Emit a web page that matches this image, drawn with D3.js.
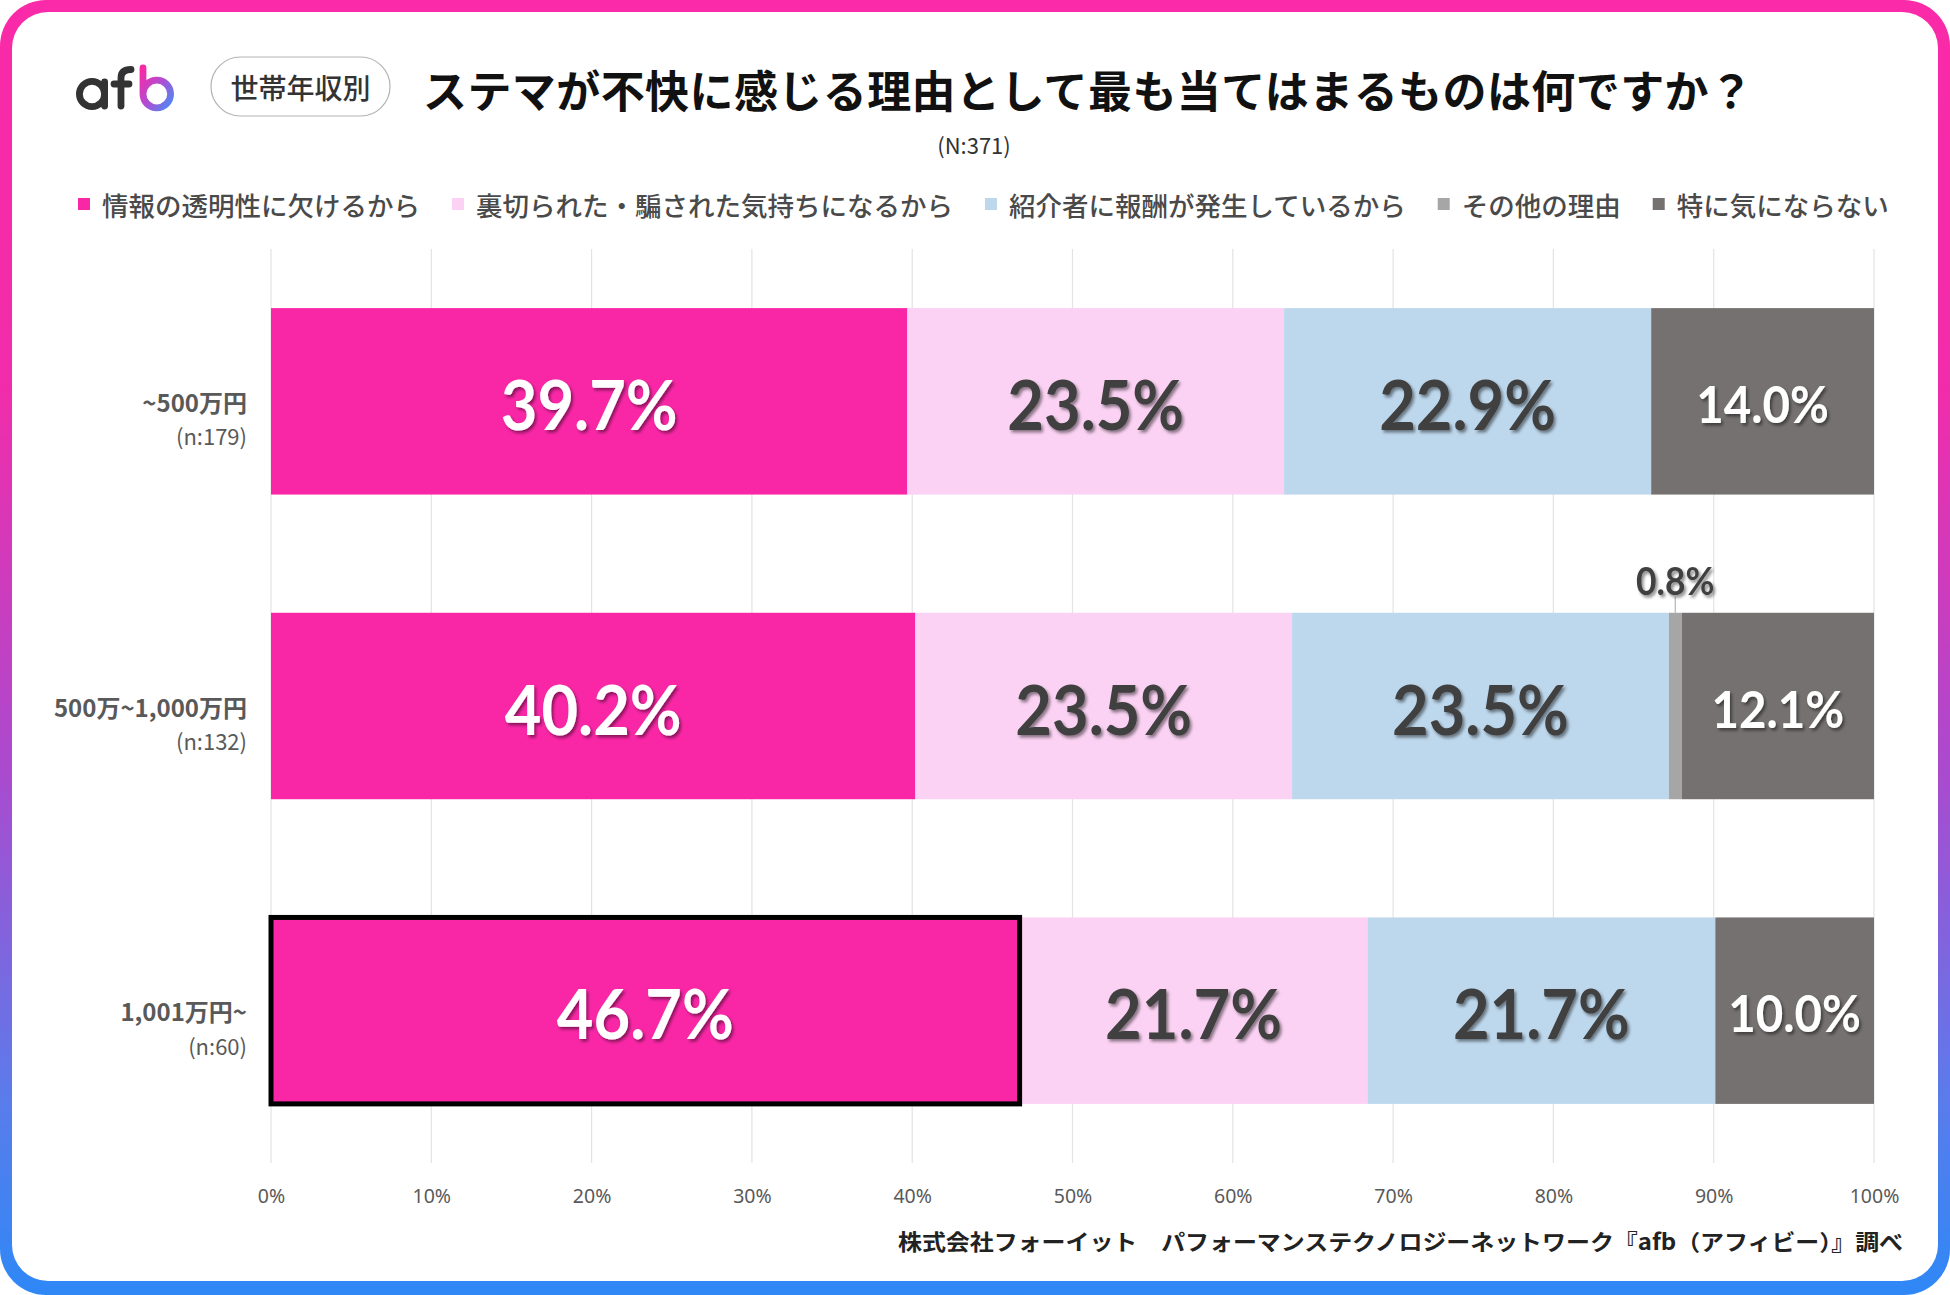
<!DOCTYPE html>
<html>
<head>
<meta charset="utf-8">
<script src="https://cdn.jsdelivr.net/npm/d3@7"></script>
<style>
  html, body { margin: 0; padding: 0; background: #ffffff; }
  svg { display: block; }
</style>
</head>
<body>
<svg id="chart" width="1950" height="1295"></svg>
<script>
// ---------------- DATA ----------------
const categories = ["~500万円", "500万~1,000万円", "1,001万円~"];
const sampleSizes = ["(n:179)", "(n:132)", "(n:60)"];
const seriesNames = ["情報の透明性に欠けるから", "裏切られた・騙された気持ちになるから", "紹介者に報酬が発生しているから", "その他の理由", "特に気にならない"];
const transparency = [39.7, 40.2, 46.7];
const betrayed = [23.5, 23.5, 21.7];
const reward = [22.9, 23.5, 21.7];
const otherReason = [0, 0.8, 0];
const notBothered = [14.0, 12.1, 10.0];
const tickValues = [0, 10, 20, 30, 40, 50, 60, 70, 80, 90, 100];
const titleText = "ステマが不快に感じる理由として最も当てはまるものは何ですか？";
const subtitleText = "(N:371)";
const badgeText = "世帯年収別";
const footerText = "株式会社フォーイット　パフォーマンステクノロジーネットワーク『afb（アフィビー）』調べ";

// ---------------- STYLE ----------------
const colors = ["#F927A6", "#FBD2F3", "#BDD7EC", "#A6A6A6", "#767171"];
const labelColors = ["#ffffff", "#404040", "#404040", "#404040", "#ffffff"];
const labelSizes = [68, 68, 68, 38, 51];
const JP = "'Noto Sans CJK JP', 'Noto Sans', sans-serif";
const NUM = "Lato, 'Noto Sans', sans-serif";

const W = 1950, H = 1295;
const svg = d3.select("#chart");
const defs = svg.append("defs");

// frame gradient
const fg = defs.append("linearGradient").attr("id", "frameGrad")
  .attr("x1", 0).attr("y1", 0).attr("x2", 0).attr("y2", 1);
[[0, "#FA2AA8"], [0.3, "#F12CAA"], [0.6, "#A94BCF"], [0.85, "#5A7CEB"], [1, "#2E88F6"]]
  .forEach(([o, c]) => fg.append("stop").attr("offset", o).attr("stop-color", c));

// logo gradient
const lg = defs.append("linearGradient").attr("id", "logoGrad")
  .attr("x1", 0).attr("y1", 0).attr("x2", 1).attr("y2", 1);
lg.append("stop").attr("offset", 0).attr("stop-color", "#F72AA5");
lg.append("stop").attr("offset", 0.5).attr("stop-color", "#B24CD2");
lg.append("stop").attr("offset", 1).attr("stop-color", "#4A8CF5");

// text shadow
const sh = defs.append("filter").attr("id", "shadow")
  .attr("x", "-20%").attr("y", "-20%").attr("width", "140%").attr("height", "140%");
sh.append("feDropShadow").attr("dx", 2).attr("dy", 2.5).attr("stdDeviation", 1.6)
  .attr("flood-color", "#000").attr("flood-opacity", 0.45);

// frame
svg.append("rect").attr("x", 0).attr("y", 0).attr("width", W).attr("height", H)
  .attr("rx", 46).attr("fill", "url(#frameGrad)");
svg.append("rect").attr("x", 12).attr("y", 12).attr("width", W - 24).attr("height", H - 26)
  .attr("rx", 36).attr("fill", "#ffffff");

// ---------------- LOGO ----------------
const logo = svg.append("g").attr("fill", "none").attr("stroke-linecap", "round").attr("stroke-width", 6.8);
logo.append("circle").attr("cx", 92).attr("cy", 94).attr("r", 12.6).attr("stroke", "#333");
logo.append("line").attr("x1", 104.6).attr("y1", 82).attr("x2", 104.6).attr("y2", 106).attr("stroke", "#333");
logo.append("path").attr("d", "M121,106 L121,78 Q121,69.5 131,69.5").attr("stroke", "#333");
logo.append("line").attr("x1", 114).attr("y1", 84).attr("x2", 129).attr("y2", 84).attr("stroke", "#333");
logo.append("path").attr("d", "M143,68 L143,94 A13.8,13.8 0 1 0 156.8,80.2 A13.8,13.8 0 0 0 143,94")
  .attr("stroke", "url(#logoGrad)");

// badge
svg.append("rect").attr("x", 211).attr("y", 57).attr("width", 179).attr("height", 59)
  .attr("rx", 29.5).attr("fill", "#fff").attr("stroke", "#b3b3b3").attr("stroke-width", 1.2);
svg.append("text").attr("x", 300.5).attr("y", 87).attr("text-anchor", "middle")
  .attr("dominant-baseline", "central").attr("font-family", JP).attr("font-size", 28)
  .attr("font-weight", 500).attr("fill", "#333").text(badgeText);

// title
svg.append("text").attr("x", 423).attr("y", 89).attr("dominant-baseline", "central")
  .attr("font-family", JP).attr("font-size", 44).attr("font-weight", 700).attr("fill", "#111")
  .attr("textLength", 1330).attr("lengthAdjust", "spacing").text(titleText);
svg.append("text").attr("x", 974).attr("y", 144).attr("text-anchor", "middle")
  .attr("dominant-baseline", "central").attr("font-family", JP).attr("font-size", 22)
  .attr("fill", "#333").text(subtitleText);

// ---------------- LEGEND ----------------
let lx = 78;
const ly = 204;
seriesNames.forEach((name, i) => {
  svg.append("rect").attr("x", lx).attr("y", ly - 6).attr("width", 12).attr("height", 12).attr("fill", colors[i]);
  const t = svg.append("text").attr("x", lx + 24).attr("y", ly).attr("dominant-baseline", "central")
    .attr("font-family", JP).attr("font-size", 26.5).attr("font-weight", 500).attr("fill", "#4a4a4a").text(name);
  lx += 24 + t.node().getComputedTextLength() + 32;
});

// ---------------- CHART ----------------
const x = d3.scaleLinear().domain([0, 100]).range([271, 1874]).clamp(true);
const y = d3.scaleBand().domain(categories).range([249, 1163]).paddingInner(0.388).paddingOuter(0.194);

// gridlines
svg.append("g").selectAll("line").data(tickValues).join("line")
  .attr("x1", d => x(d)).attr("x2", d => x(d)).attr("y1", 249).attr("y2", 1163)
  .attr("stroke", "#e3e3e3").attr("stroke-width", 1.2);

// x axis labels
const xAxis = d3.axisBottom(x).tickValues(tickValues).tickFormat(d => d + "%").tickSize(0).tickPadding(0);
const ax = svg.append("g").attr("transform", "translate(0,1189)").call(xAxis);
ax.select(".domain").remove();
ax.selectAll("text").attr("font-family", "'Noto Sans', sans-serif").attr("font-size", 19.5)
  .attr("fill", "#595959");

// stacked data
const seriesArrays = [transparency, betrayed, reward, otherReason, notBothered];
const rows = categories.map((c, i) => {
  const r = { cat: c };
  seriesNames.forEach((s, j) => r[s] = seriesArrays[j][i]);
  return r;
});
const stacked = d3.stack().keys(seriesNames)(rows);

const barsG = svg.append("g");
stacked.forEach((layer, si) => {
  barsG.append("g").attr("fill", colors[si]).selectAll("rect").data(layer).join("rect")
    .attr("x", d => x(d[0])).attr("y", d => y(d.data.cat))
    .attr("width", d => Math.max(0, x(d[1]) - x(d[0])))
    .attr("height", y.bandwidth());
});

// highlight (1,001万円~, first series)
const hl = stacked[0][2];
svg.append("rect").attr("x", x(hl[0])).attr("y", y(hl.data.cat))
  .attr("width", x(hl[1]) - x(hl[0])).attr("height", y.bandwidth())
  .attr("fill", "none").attr("stroke", "#000").attr("stroke-width", 5);

// value labels (condensed to mimic Calibri proportions)
const labelsG = svg.append("g");
function condense(t, f) {
  const w = t.node().getComputedTextLength();
  t.attr("textLength", w * f).attr("lengthAdjust", "spacingAndGlyphs");
}
stacked.forEach((layer, si) => {
  layer.forEach(d => {
    const v = d[1] - d[0];
    if (v <= 0) return;
    const cx = (x(d[0]) + x(Math.min(d[1], 100))) / 2;
    const cy = y(d.data.cat) + y.bandwidth() / 2;
    const txt = v.toFixed(1) + "%";
    let t;
    if (v < 3) {
      const top = y(d.data.cat);
      labelsG.append("line").attr("x1", cx).attr("x2", cx).attr("y1", top - 16).attr("y2", top)
        .attr("stroke", "#a6a6a6").attr("stroke-width", 1);
      t = labelsG.append("text").attr("x", cx).attr("y", top - 33).attr("text-anchor", "middle")
        .attr("dominant-baseline", "central").attr("font-family", NUM).attr("font-weight", 700)
        .attr("font-size", labelSizes[si]).attr("fill", "#404040").attr("filter", "url(#shadow)").text(txt);
    } else {
      t = labelsG.append("text").attr("x", cx).attr("y", cy + 2).attr("text-anchor", "middle")
        .attr("dominant-baseline", "central").attr("font-family", NUM).attr("font-weight", 700)
        .attr("font-size", labelSizes[si]).attr("fill", labelColors[si]).attr("filter", "url(#shadow)").text(txt);
    }
    condense(t, 0.93);
  });
});

// category labels
const catG = svg.append("g");
categories.forEach((c, i) => {
  const cy = y(c) + y.bandwidth() / 2;
  catG.append("text").attr("x", 247).attr("y", cy).attr("text-anchor", "end")
    .attr("dominant-baseline", "central").attr("font-family", JP).attr("font-size", 24)
    .attr("font-weight", 700).attr("fill", "#595959").text(c);
  catG.append("text").attr("x", 247).attr("y", cy + 34).attr("text-anchor", "end")
    .attr("dominant-baseline", "central").attr("font-family", JP).attr("font-size", 22)
    .attr("fill", "#595959").text(sampleSizes[i]);
});

// footer
svg.append("text").attr("x", 898).attr("y", 1240).attr("dominant-baseline", "central")
  .attr("font-family", JP).attr("font-size", 22).attr("font-weight", 700).attr("fill", "#222")
  .attr("textLength", 1005).attr("lengthAdjust", "spacingAndGlyphs").text(footerText);
</script>
</body>
</html>
